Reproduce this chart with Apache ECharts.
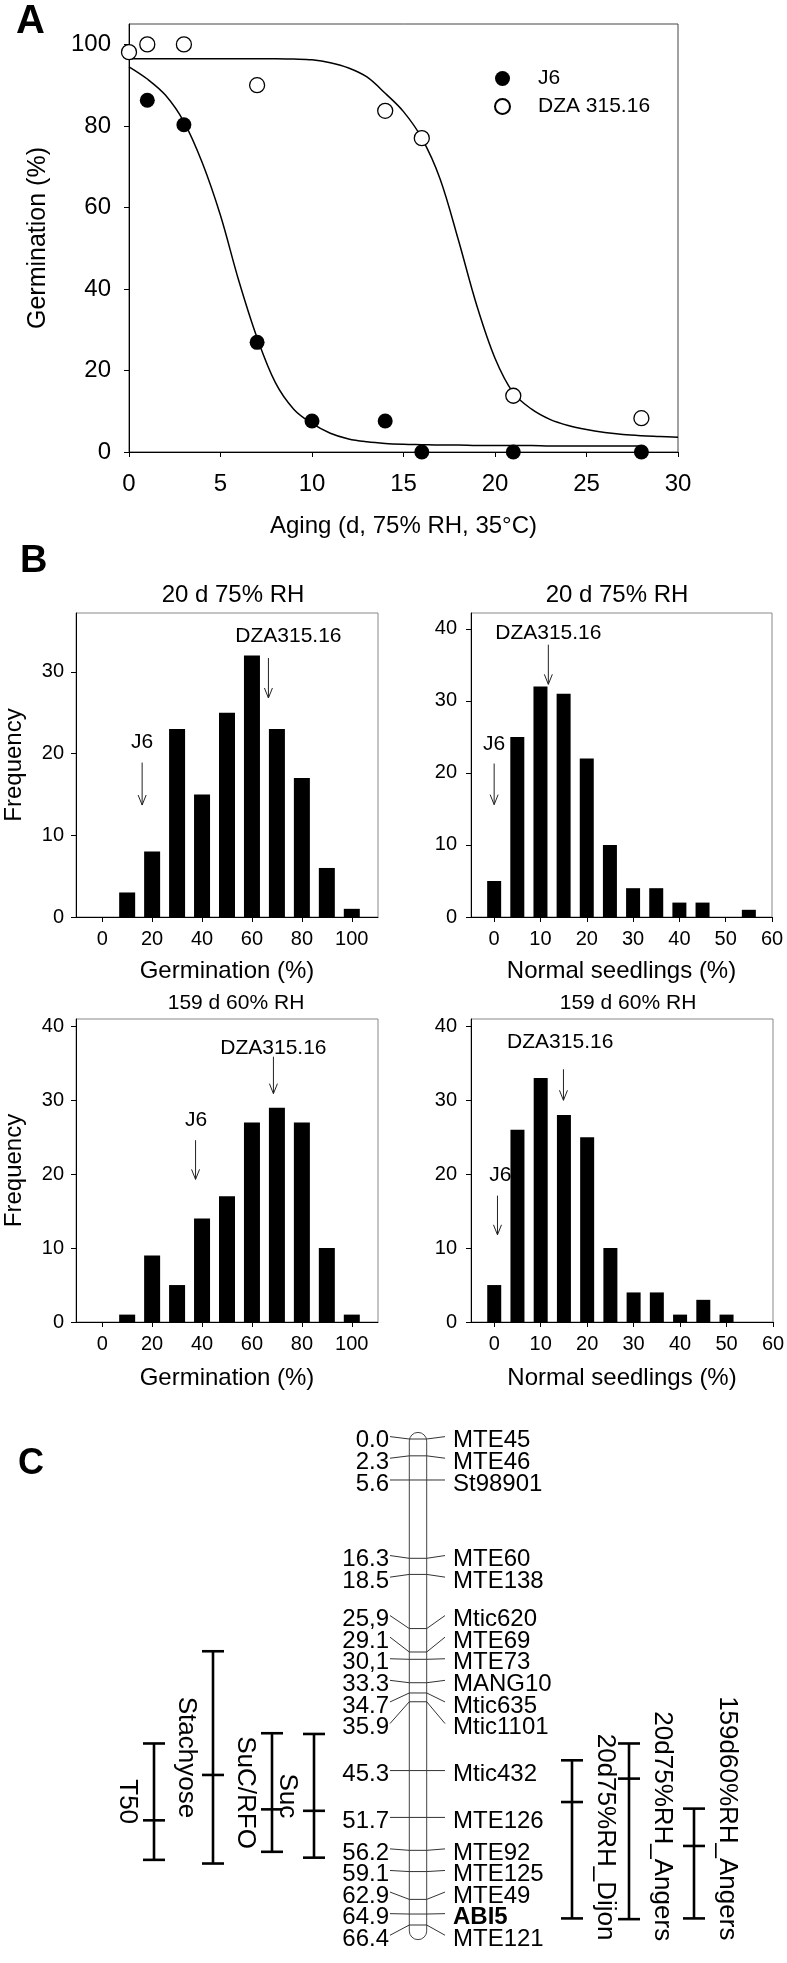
<!DOCTYPE html>
<html><head><meta charset="utf-8">
<script src="https://cdn.jsdelivr.net/npm/echarts@6/dist/echarts.min.js"></script>
<style>html,body{margin:0;padding:0;background:#fff}#c{width:787px;height:1963px}</style>
</head><body><div id="c"></div>
<script>
// ---------------- DATA ----------------
// Panel A: germination vs aging (d, 75% RH, 35 C)
const agingJ6X = [1, 3, 7, 10, 14, 16, 21, 28];
const agingJ6Y = [86.3, 80.3, 26.9, 7.6, 7.6, 0, 0, 0];
const agingDzaX = [0, 1, 3, 7, 14, 16, 21, 28];
const agingDzaY = [98.1, 100, 100, 90, 83.7, 77, 13.8, 8.3];
// fitted curves
const fitJ6X = [0,1,2,3,4,5,6,7,8,9,10,11,12,13,14,15,16,17,18,19,20,21,22,23,24,25,26,27,28];
const fitJ6Y = [94.5,91.5,87.5,81,71,58,42,28,17,10.5,7,4.6,3.2,2.5,2.1,1.9,1.8,1.7,1.7,1.6,1.6,1.6,1.6,1.5,1.5,1.5,1.5,1.5,1.5];
const fitDzaX = [0,1,2,3,4,5,6,7,8,9,10,11,12,13,14,15,16,17,18,19,20,21,22,23,24,25,26,27,28,29,30];
const fitDzaY = [96.5,96.5,96.5,96.5,96.5,96.5,96.5,96.5,96.5,96.4,96.2,95.5,94.2,92,88,83.5,77,67,52,36,23,14.5,10.5,8,6.5,5.5,4.8,4.3,4,3.8,3.6];
const aXTicks = [0, 5, 10, 15, 20, 25, 30];
const aYTicks = [0, 20, 40, 60, 80, 100];

// Panel B: histograms
const germBins = [10, 20, 30, 40, 50, 60, 70, 80, 90, 100];
const germFreq20d = [3, 8, 23, 15, 25, 32, 23, 17, 6, 1];
const germFreq159d = [1, 9, 5, 14, 17, 27, 29, 27, 10, 1];
const seedBins20d = [0, 5, 10, 15, 20, 25, 30, 35, 40, 45, 50, 55];
const seedFreq20d = [5, 25, 32, 31, 22, 10, 4, 4, 2, 2, 0, 1];
const seedBins159d = [0, 5, 10, 15, 20, 25, 30, 35, 40, 45, 50];
const seedFreq159d = [5, 26, 33, 28, 25, 10, 4, 4, 1, 3, 1];
const germTicks = [0, 20, 40, 60, 80, 100];
const seedTicks = [0, 10, 20, 30, 40, 50, 60];
const freqTicksA = [0, 10, 20, 30];
const freqTicksB = [0, 10, 20, 30, 40];
const parentNames = ['J6', 'DZA315.16'];
// parental values (x) in each histogram: [J6, DZA315.16]
const parentGerm20d = [16, 66.6];
const parentSeed20d = [0, 11.7];
const parentGerm159d = [37.4, 68.6];
const parentSeed159d = [0.7, 14.9];

// Panel C: genetic map
const markerNames = ['MTE45','MTE46','St98901','MTE60','MTE138','Mtic620','MTE69','MTE73','MANG10','Mtic635','Mtic1101','Mtic432','MTE126','MTE92','MTE125','MTE49','ABI5','MTE121'];
const markerPos = [0.0, 2.3, 5.6, 16.3, 18.5, 25.9, 29.1, 30.1, 33.3, 34.7, 35.9, 45.3, 51.7, 56.2, 59.1, 62.9, 64.9, 66.4];
const markerPosText = ['0.0','2.3','5.6','16.3','18.5','25,9','29.1','30,1','33.3','34.7','35.9','45.3','51.7','56.2','59.1','62.9','64.9','66.4'];
const qtlNames = ['T50','Stachyose','SuC/RFO','Suc','20d75%RH_Dijon','20d75%RH_Angers','159d60%RH_Angers'];
const qtlStart = [41.6, 29.0, 40.2, 40.3, 43.9, 41.6, 50.5];
const qtlEnd   = [57.5, 58.0, 56.4, 57.2, 65.5, 65.6, 65.5];
const qtlPeak  = [52.1, 45.9, 50.6, 50.8, 49.6, 46.4, 55.6];

// ---------------- LAYOUT ----------------
const FONT = '"Liberation Sans", Arial, Helvetica, sans-serif';
const qtlX = [154, 213, 272, 314, 572, 629, 694];
const qtlSide = ['L','L','L','L','R','R','R'];
// arrow annotation layout per panel: [yTop, yBottom, textX, textY] for J6 and DZA
const arrowsLayout = [
  [[18.9, 13.7, 16, 21.4], [31.7, 26.8, 74.6, 34.3]],
  [[21.3, 15.6, 0, 24.0], [37.8, 32.3, 11.7, 39.4]],
  [[24.6, 19.3, 37.6, 27.3], [35.9, 30.9, 68.6, 37.0]],
  [[17.1, 11.8, 1.3, 19.9], [34.2, 30.0, 14.2, 37.9]]
];

function only(vals) {
  return function (v) { return vals.some(t => Math.abs(t - v) < 1e-6) ? String(v) : ''; };
}
function vAxis(gi, min, max, ticks, o) {
  o = o || {};
  return {
    type: 'value', gridIndex: gi, min: min, max: max, show: o.show !== false,
    inverse: !!o.inverse,
    splitLine: { show: false },
    axisLine: { show: true, onZero: false, lineStyle: { color: '#000', width: 1 } },
    axisTick: { show: true, inside: false, length: o.tickLen || 5, customValues: ticks, lineStyle: { color: '#000' } },
    axisLabel: { customValues: ticks, formatter: only(ticks), fontSize: o.fs || 20, color: '#000', fontFamily: FONT, margin: o.margin || 12 },
    name: o.name || '', nameLocation: 'middle', nameGap: o.nameGap || 30,
    nameTextStyle: { fontSize: o.nfs || 24, color: '#000', fontFamily: FONT }
  };
}

// label spreading for the genetic map (avoid overlapping texts)
function spread(pos, gap) {
  let groups = pos.map(p => ({ items: [p] }));
  const center = g => g.items.reduce((a, b) => a + b, 0) / g.items.length;
  let changed = true;
  while (changed) {
    changed = false;
    for (let k = 0; k < groups.length - 1; k++) {
      const a = groups[k], b = groups[k + 1];
      const aEnd = center(a) + (a.items.length - 1) / 2 * gap;
      const bStart = center(b) - (b.items.length - 1) / 2 * gap;
      if (bStart - aEnd < gap - 1e-9) {
        groups.splice(k, 2, { items: a.items.concat(b.items) });
        changed = true; break;
      }
    }
  }
  const out = [];
  groups.forEach(g => { const c = center(g), n = g.items.length; for (let i = 0; i < n; i++) out.push(c + (i - (n - 1) / 2) * gap); });
  return out;
}
const markerLabelPos = spread(markerPos, 2.95);

// ---------------- OPTION ----------------
const series = [];
// Panel A
series.push({ type: 'line', name: 'fitJ6', xAxisIndex: 0, yAxisIndex: 0, data: fitJ6X.map((x, i) => [x, fitJ6Y[i]]), smooth: 0.35, symbol: 'none', lineStyle: { color: '#000', width: 1.5 }, z: 2, silent: true });
series.push({ type: 'line', name: 'fitDza', xAxisIndex: 0, yAxisIndex: 0, data: fitDzaX.map((x, i) => [x, fitDzaY[i]]), smooth: 0.35, symbol: 'none', lineStyle: { color: '#000', width: 1.5 }, z: 2, silent: true });
series.push({ type: 'scatter', name: 'J6', xAxisIndex: 0, yAxisIndex: 0, data: agingJ6X.map((x, i) => [x, agingJ6Y[i]]), symbol: 'circle', symbolSize: 15, itemStyle: { color: '#000', opacity: 1 }, clip: false, z: 4 });
series.push({ type: 'scatter', name: 'DZA 315.16', xAxisIndex: 0, yAxisIndex: 0, data: agingDzaX.map((x, i) => [x, agingDzaY[i]]), symbol: 'circle', symbolSize: 15, itemStyle: { color: '#fff', borderColor: '#000', borderWidth: 1.3, opacity: 1 }, clip: false, z: 4 });

// Panel B
const hist = [
  [germBins, germFreq20d, 16, parentGerm20d],
  [seedBins20d, seedFreq20d, 14, parentSeed20d],
  [germBins, germFreq159d, 16, parentGerm159d],
  [seedBins159d, seedFreq159d, 14, parentSeed159d]
];
hist.forEach((h, k) => {
  series.push({ type: 'bar', xAxisIndex: k + 1, yAxisIndex: k + 1, data: h[0].map((x, i) => [x, h[1][i]]), barWidth: h[2], itemStyle: { color: '#000' }, z: 3, silent: true });
  const lay = arrowsLayout[k];
  series.push({
    type: 'custom', xAxisIndex: k + 1, yAxisIndex: k + 1, z: 1, silent: true, clip: false,
    data: h[3].map((x, j) => [x, lay[j][0], lay[j][1], lay[j][2], lay[j][3], j]),
    renderItem: function (params, api) {
      const p1 = api.coord([api.value(0), api.value(1)]);
      const p2 = api.coord([api.value(0), api.value(2)]);
      const pt = api.coord([api.value(3), api.value(4)]);
      const j = api.value(5);
      return { type: 'group', children: [
        { type: 'line', shape: { x1: p1[0], y1: p1[1], x2: p2[0], y2: p2[1] }, style: { stroke: '#222', lineWidth: 1 } },
        { type: 'polyline', shape: { points: [[p2[0] - 4, p2[1] - 10], [p2[0], p2[1]], [p2[0] + 4, p2[1] - 10]] }, style: { stroke: '#222', lineWidth: 1, fill: null } },
        { type: 'text', x: pt[0], y: pt[1], style: { text: parentNames[j], font: '21px ' + FONT, fill: '#000', align: 'center', verticalAlign: 'middle' } }
      ] };
    }
  });
});

// Panel C: chromosome
series.push({
  type: 'custom', xAxisIndex: 5, yAxisIndex: 5, z: 1, silent: true, clip: false,
  data: [[-0.9, 68.4]],
  renderItem: function (params, api) {
    const a = api.coord([409.3, api.value(0)]);
    const b = api.coord([426.7, api.value(1)]);
    return { type: 'rect', shape: { x: a[0], y: a[1], width: b[0] - a[0], height: b[1] - a[1], r: (b[0] - a[0]) / 2 }, style: { fill: '#fff', stroke: '#444', lineWidth: 1 } };
  }
});
// markers
series.push({
  type: 'custom', xAxisIndex: 5, yAxisIndex: 5, z: 2, silent: true, clip: false,
  data: markerPos.map((p, i) => [p, markerLabelPos[i], i]),
  renderItem: function (params, api) {
    const i = api.value(2);
    const yA = api.coord([0, api.value(0)])[1];
    const yL = api.coord([0, api.value(1)])[1];
    const X = x => api.coord([x, 0])[0];
    return { type: 'group', children: [
      { type: 'polyline', shape: { points: [[X(390), yL], [X(409.3), yA], [X(426.7), yA], [X(445), yL]] }, style: { stroke: '#333', lineWidth: 1, fill: null } },
      { type: 'text', x: X(389), y: yL + 4, style: { text: markerPosText[i], font: '24px ' + FONT, fill: '#000', align: 'right', verticalAlign: 'middle' } },
      { type: 'text', x: X(453), y: yL + 4, style: { text: markerNames[i], font: (markerNames[i] === 'ABI5' ? 'bold ' : '') + '24px ' + FONT, fill: '#000', align: 'left', verticalAlign: 'middle' } }
    ] };
  }
});
// QTL intervals
series.push({
  type: 'custom', xAxisIndex: 5, yAxisIndex: 5, z: 2, silent: true, clip: false,
  data: qtlNames.map((n, i) => [qtlStart[i], qtlEnd[i], qtlPeak[i], i]),
  renderItem: function (params, api) {
    const i = api.value(3);
    const x = api.coord([qtlX[i], 0])[0];
    const ys = api.coord([0, api.value(0)])[1];
    const ye = api.coord([0, api.value(1)])[1];
    const yp = api.coord([0, api.value(2)])[1];
    const st = { stroke: '#000', lineWidth: 2.6 };
    const hw = 11;
    const left = qtlSide[i] === 'L';
    const label = left
      ? { type: 'text', x: x - 27, y: (ys + ye) / 2, rotation: -Math.PI / 2, style: { text: qtlNames[i], font: '26px ' + FONT, fill: '#000', align: 'center', verticalAlign: 'middle' } }
      : { type: 'text', x: x + 33, y: ye + 22, rotation: -Math.PI / 2, style: { text: qtlNames[i], font: '26px ' + FONT, fill: '#000', align: 'right', verticalAlign: 'middle' } };
    return { type: 'group', children: [
      { type: 'line', shape: { x1: x, y1: ys, x2: x, y2: ye }, style: st },
      { type: 'line', shape: { x1: x - hw, y1: ys, x2: x + hw, y2: ys }, style: st },
      { type: 'line', shape: { x1: x - hw, y1: ye, x2: x + hw, y2: ye }, style: st },
      { type: 'line', shape: { x1: x - hw, y1: yp, x2: x + hw, y2: yp }, style: st },
      label
    ] };
  }
});

const gridBase = { containLabel: false, outerBoundsMode: 'none' };
const option = {
  backgroundColor: '#fff',
  animation: false,
  textStyle: { fontFamily: FONT },
  grid: [
    Object.assign({ left: 129, top: 24, width: 549, height: 428, show: true, borderColor: '#444', borderWidth: 1 }, gridBase),
    Object.assign({ left: 76, top: 613, width: 302, height: 304, show: true, borderColor: '#888', borderWidth: 1 }, gridBase),
    Object.assign({ left: 471, top: 613, width: 301, height: 304, show: true, borderColor: '#888', borderWidth: 1 }, gridBase),
    Object.assign({ left: 76, top: 1019, width: 302, height: 303, show: true, borderColor: '#888', borderWidth: 1 }, gridBase),
    Object.assign({ left: 471, top: 1019, width: 302, height: 303, show: true, borderColor: '#888', borderWidth: 1 }, gridBase),
    Object.assign({ left: 0, top: 1439, width: 787, height: 486, show: false }, gridBase)
  ],
  xAxis: [
    vAxis(0, 0, 30, aXTicks, { fs: 24, margin: 20, name: 'Aging (d, 75% RH, 35°C)', nameGap: 62, nfs: 24 }),
    vAxis(1, -10.5, 110.5, germTicks, { name: 'Germination (%)', nameGap: 42 }),
    vAxis(2, -5, 60, seedTicks, { name: 'Normal seedlings (%)', nameGap: 42 }),
    vAxis(3, -10.5, 110.5, germTicks, { name: 'Germination (%)', nameGap: 44 }),
    vAxis(4, -5, 60, seedTicks, { name: 'Normal seedlings (%)', nameGap: 44 }),
    Object.assign(vAxis(5, 0, 787, []), { show: false })
  ],
  yAxis: [
    vAxis(0, 0, 105, aYTicks, { fs: 24, margin: 18, name: 'Germination (%)', nameGap: 78, nfs: 25 }),
    vAxis(1, 0, 37.2, freqTicksA, { name: 'Frequency', nameGap: 50 }),
    vAxis(2, 0, 42.2, freqTicksB, { margin: 14 }),
    vAxis(3, 0, 41, freqTicksB, { name: 'Frequency', nameGap: 50 }),
    vAxis(4, 0, 41, freqTicksB, { margin: 14 }),
    Object.assign(vAxis(5, 0, 66.4, [], { inverse: true }), { show: false })
  ],
  legend: {
    data: ['J6', 'DZA 315.16'], orient: 'vertical', left: 489, top: 63,
    itemWidth: 15, itemHeight: 15, itemGap: 7, icon: 'circle',
    textStyle: { fontSize: 21, color: '#000', fontFamily: FONT, padding: [0, 0, 0, 23] }, selectedMode: false
  },
  graphic: [
    { type: 'text', left: 16, top: 2, style: { text: 'A', font: 'bold 40px ' + FONT, fill: '#000' } },
    { type: 'text', left: 20, top: 543, style: { text: 'B', font: 'bold 38px ' + FONT, fill: '#000' } },
    { type: 'text', left: 18, top: 1446, style: { text: 'C', font: 'bold 36px ' + FONT, fill: '#000' } },
    { type: 'text', x: 233, y: 595, style: { text: '20 d 75% RH', font: '24px ' + FONT, fill: '#000', align: 'center', verticalAlign: 'middle' } },
    { type: 'text', x: 617, y: 595, style: { text: '20 d 75% RH', font: '24px ' + FONT, fill: '#000', align: 'center', verticalAlign: 'middle' } },
    { type: 'text', x: 236, y: 1003, style: { text: '159 d 60% RH', font: '21px ' + FONT, fill: '#000', align: 'center', verticalAlign: 'middle' } },
    { type: 'text', x: 628, y: 1003, style: { text: '159 d 60% RH', font: '21px ' + FONT, fill: '#000', align: 'center', verticalAlign: 'middle' } }
  ],
  series: series
};
const chart = echarts.init(document.getElementById('c'), null, { renderer: 'canvas', width: 787, height: 1963 });
chart.setOption(option);
</script></body></html>
